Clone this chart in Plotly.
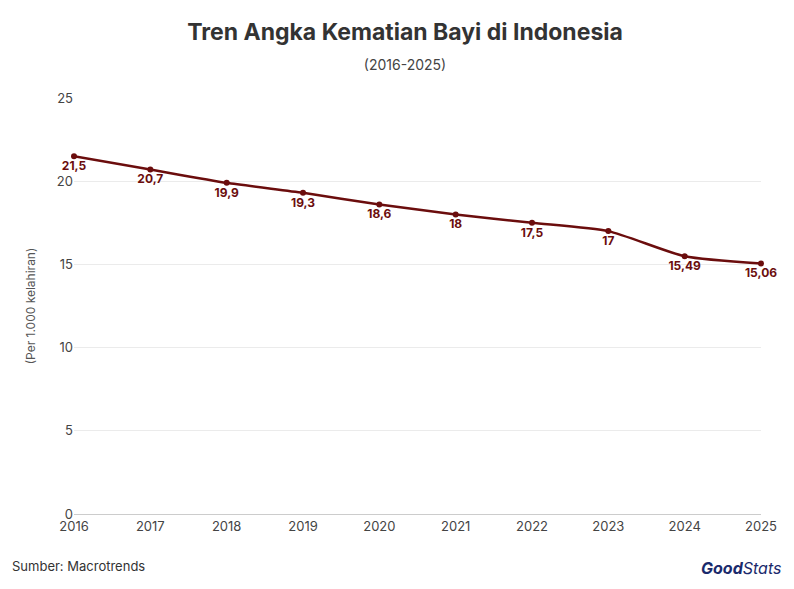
import plotly.graph_objects as go

years = [2016, 2017, 2018, 2019, 2020, 2021, 2022, 2023, 2024, 2025]
rates = [21.5, 20.7, 19.9, 19.3, 18.6, 18.0, 17.5, 17.0, 15.49, 15.06]
labels = ["21,5", "20,7", "19,9", "19,3", "18,6", "18", "17,5", "17", "15,49", "15,06"]

red = "#6b0d0d"

fig = go.Figure(go.Scatter(
    x=years, y=rates, mode="lines+markers+text",
    line=dict(color=red, width=2.5, shape="spline", smoothing=0.6),
    marker=dict(color=red, size=6),
    text=["<b>" + t + "</b>" for t in labels], textposition="bottom center",
    textfont=dict(color=red, size=12, family="Inter"),
    cliponaxis=False, hoverinfo="x+y"
))

fig.update_layout(
    width=794, height=589,
    margin=dict(l=66, r=41, t=90, b=83, autoexpand=False),
    plot_bgcolor="white", paper_bgcolor="white",
    font=dict(family="Inter", color="#444"),
    showlegend=False,
    title=dict(
        text="<b>Tren Angka Kematian Bayi di Indonesia</b><br>"
             "<span style='font-size:14px;color:#444'>(2016-2025)</span>",
        x=0.5, y=0.945, xanchor="center", yanchor="top",
        font=dict(size=23, color="#333", family="Inter"),
    ),
)
fig.update_xaxes(range=[2016, 2025], dtick=1, showgrid=False, showline=True,
                 linecolor="#ccc", ticks="", tickfont=dict(size=13, color="#444"))
fig.update_yaxes(range=[0, 25], dtick=5, gridcolor="#ebebeb", zeroline=False,
                 showline=False, tickfont=dict(size=13, color="#444"),
                 title=dict(text="(Per 1.000 kelahiran)", font=dict(size=12, color="#555"),
                            standoff=18))

fig.add_annotation(text="Sumber: Macrotrends", x=0, y=0, xref="paper", yref="paper",
                   xshift=-64, yshift=-62, xanchor="left", yanchor="bottom",
                   showarrow=False, font=dict(size=13, color="#333"))
fig.add_annotation(text="<b><i>Good</i></b><i>Stats</i>", x=1, y=0, xref="paper", yref="paper",
                   xshift=22, yshift=-66, xanchor="right", yanchor="bottom",
                   showarrow=False, font=dict(size=16, color="#1a2a6c"))

fig.write_html("out.html")
